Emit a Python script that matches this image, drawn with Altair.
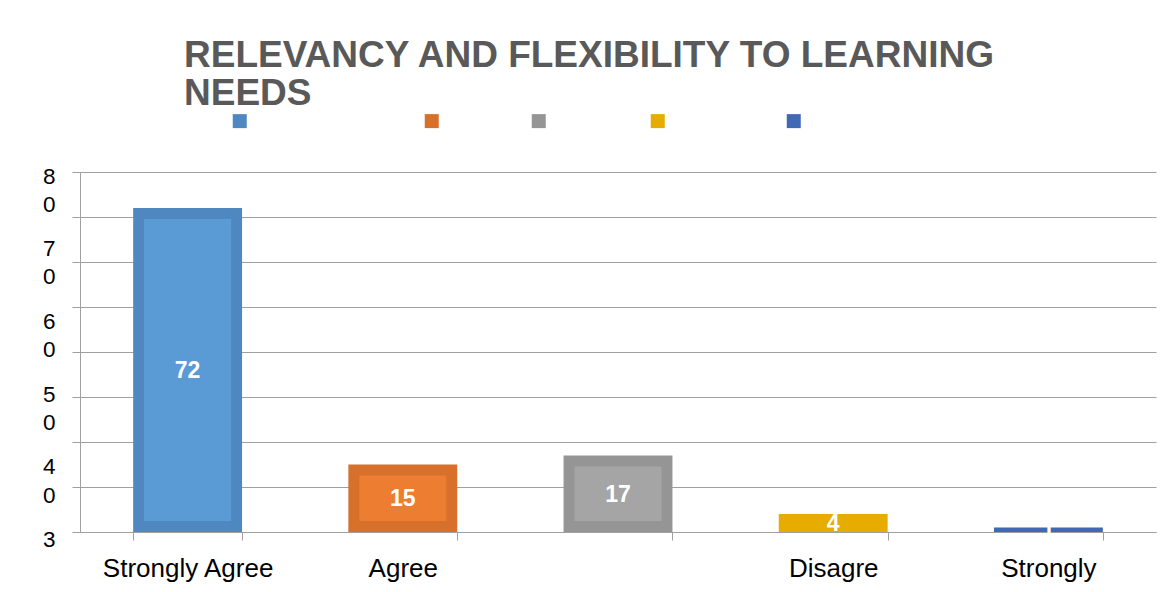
import altair as alt
import pandas as pd

# ---------------- data ----------------
title_lines = ["RELEVANCY AND FLEXIBILITY TO LEARNING", "NEEDS"]
categories = ["Strongly Agree", "Agree", " ", "Disagre", "Strongly"]          # x tick labels as printed
series = ["Strongly Agree", "Agree", "Neutral", "Disagree", "Strongly Disagree"]  # legend entries (labels not shown)
values = [72, 15, 17, 4, 1]
y_grid_ticks = [0, 10, 20, 30, 40, 50, 60, 70, 80]
y_label_ticks = [80, 70, 60, 50, 40, 30]

# ---------------- style ----------------
FONT = "Liberation Sans"
AX = "#a0a0a0"
outer_colors = ["#4f88c0", "#d6702b", "#959595", "#e6ac00", "#4068b5"]
inner_colors = ["#5b9bd5", "#ed7d31", "#a5a5a5", "#ffc000", "#4472c4"]

df = pd.DataFrame({"category": categories, "series": series, "value": values})
ylab = pd.DataFrame({"tick": y_label_ticks})

y_scale = alt.Scale(domain=[0, 80], nice=False, zero=True)

x_enc = alt.X(
    "category:N",
    sort=categories,
    scale=alt.Scale(paddingInner=0.494, paddingOuter=0.247),
    axis=alt.Axis(
        title=None, labelAngle=0, labelFontSize=26, labelFont=FONT, labelColor="#000000",
        tickBand="extent", tickSize=8, tickColor=AX, domainColor=AX, labelPadding=15,
        grid=False, labelOverlap=False,
    ),
)

outer = alt.Chart(df).mark_bar().encode(
    x=x_enc,
    y=alt.Y(
        "value:Q", scale=y_scale,
        axis=alt.Axis(title=None, values=y_grid_ticks, labels=False, tickSize=8,
                      grid=True, gridColor=AX, tickColor=AX, domainColor=AX),
    ),
    color=alt.Color(
        "series:N", sort=series,
        scale=alt.Scale(domain=series, range=outer_colors),
        legend=alt.Legend(
            title=None, orient="none", legendX=149, legendY=-62, direction="horizontal",
            symbolType="square", symbolSize=196, symbolStrokeWidth=0,
            labelOpacity=0, labelFontSize=21.5, labelFont=FONT, labelOffset=5,
            labelBaseline="top", columnPadding=23, padding=0,
        ),
    ),
)

inner = alt.Chart(df).transform_filter("datum.value > 5").mark_bar(
    width={"band": 0.8}, yOffset=11, y2Offset=-11
).encode(
    x=alt.X("category:N", sort=categories),
    y=alt.Y("value:Q", scale=y_scale),
    y2=alt.Y2(datum=0),
    fill=alt.Fill("series:N", sort=series,
                  scale=alt.Scale(domain=series, range=inner_colors), legend=None),
)

value_text = alt.Chart(df).transform_calculate(mid="datum.value / 2").mark_text(
    color="white", fontWeight="bold", fontSize=23, font=FONT, baseline="middle", dy=1
).encode(
    x=alt.X("category:N", sort=categories),
    y=alt.Y("mid:Q", scale=y_scale),
    text=alt.Text("value:Q"),
)

main = alt.layer(outer, inner, value_text)

# the printed y-axis labels (two-line, spaced independently from the gridlines)
ylabels = alt.Chart(ylab).mark_point(opacity=0).encode(
    y=alt.Y(
        "tick:Q",
        scale=alt.Scale(domain=[30, 80], range=[374.5, 11.0], nice=False, zero=False),
        axis=alt.Axis(
            orient="left",
            title=None, values=y_label_ticks, ticks=False, domain=False, grid=False,
            labelPadding=25, labelFontSize=22.5, labelFont=FONT, labelColor="#000000",
            labelLineHeight=28.3, labelBaseline="alphabetic", labelOverlap=False,
            labelExpr="datum.value == 30 ? substring(datum.label, 0, 1) : "
                      "[substring(datum.label, 0, 1), substring(datum.label, 1, 2)]",
        ),
    ),
)

chart = alt.layer(main, ylabels).resolve_scale(y="independent").properties(
    width=1076,
    height=360,
    title=alt.TitleParams(
        text=title_lines, anchor="start", frame="group", dx=104, dy=7, fontSize=37,
        font=FONT, fontWeight="bold", color="#595959", lineHeight=38,
    ),
    autosize=alt.AutoSizeParams(type="none"),
    padding={"left": 72, "top": 164, "right": 10, "bottom": 52},
    background="white",
).configure_view(strokeWidth=0)

chart.save("out.html", embed_options={"renderer": "svg", "actions": False})
